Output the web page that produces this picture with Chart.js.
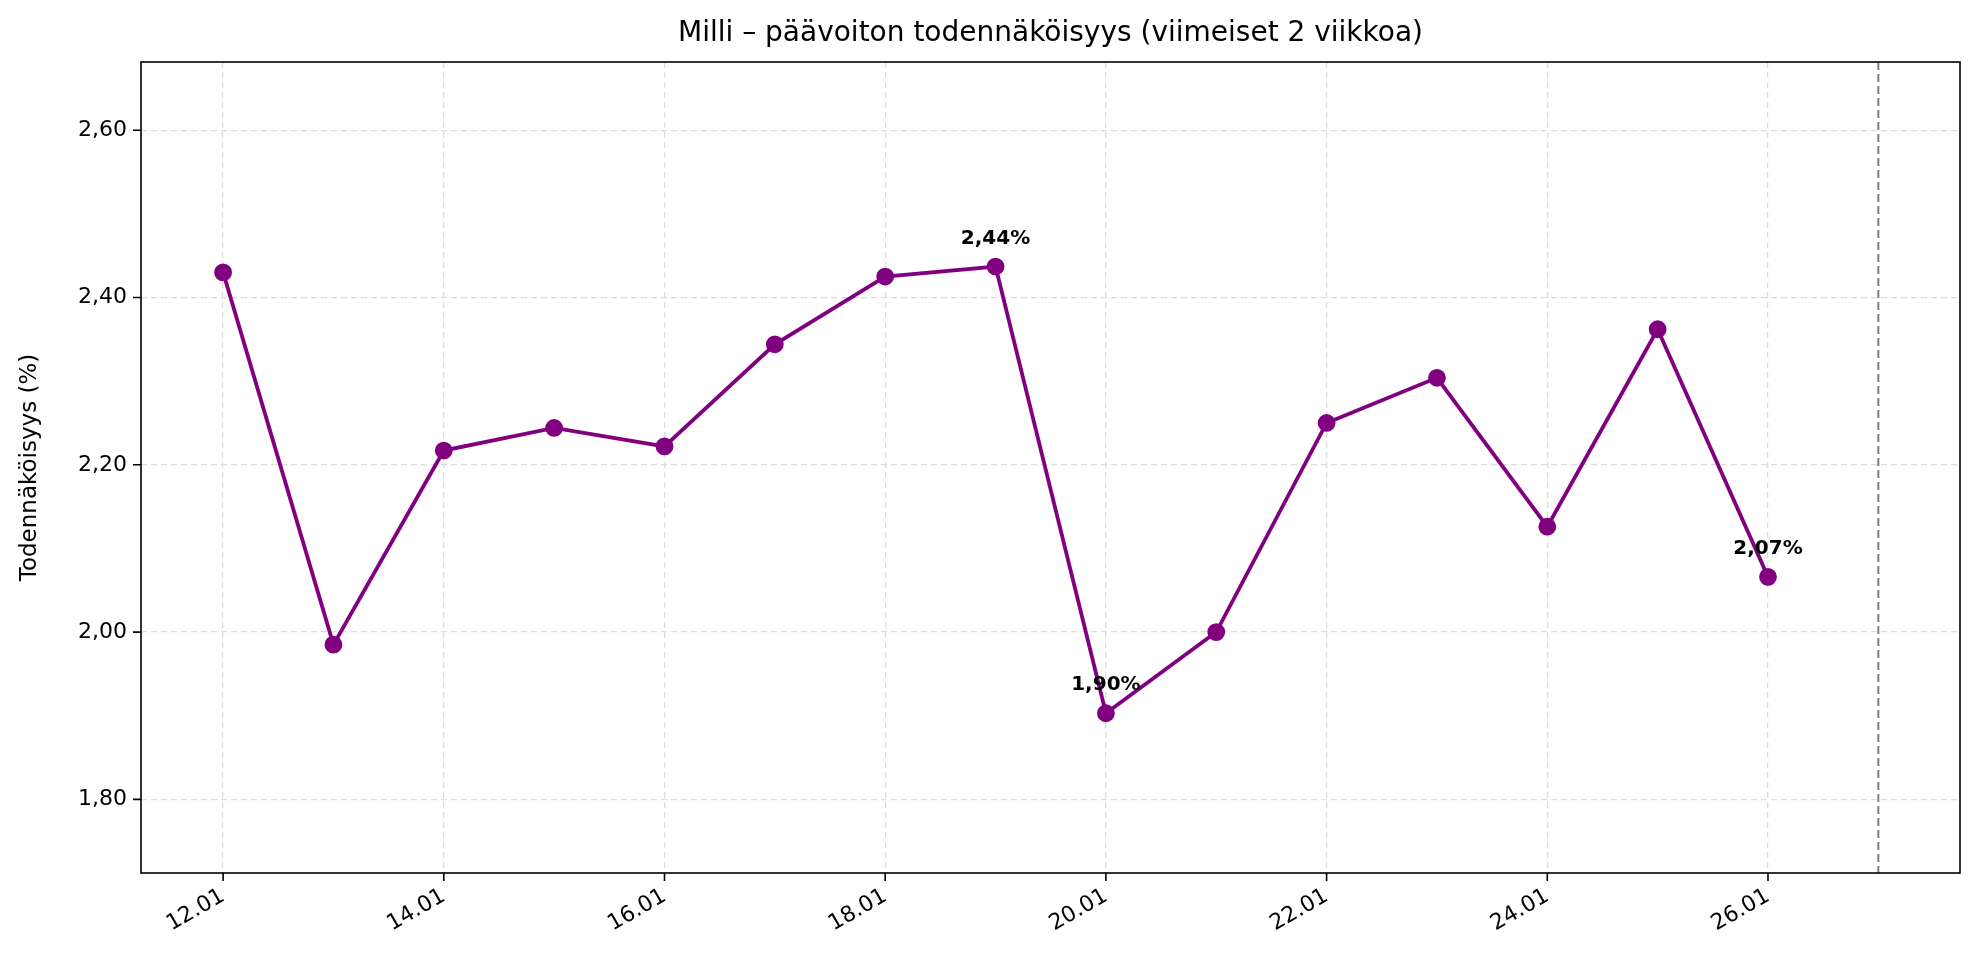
<!DOCTYPE html>
<html><head><meta charset="utf-8">
<script src="https://cdn.jsdelivr.net/npm/chart.js"></script>
<style>html,body{margin:0;background:#fff}</style>
</head><body>
<canvas id="c" width="1980" height="978"></canvas>
<script>
// päivät (tammikuu) ja todennäköisyydet %
var days = [12, 13, 14, 15, 16, 17, 18, 19, 20, 21, 22, 23, 24, 25, 26];
var probs = [2.43, 1.985, 2.217, 2.244, 2.222, 2.344, 2.425, 2.437, 1.903, 2.0, 2.25, 2.304, 2.126, 2.362, 2.066];
var labelled = [7, 8, 14]; // indeksit joille merkintä
var yTicks = [1.8, 2.0, 2.2, 2.4, 2.6];
var xTicks = [12, 14, 16, 18, 20, 22, 24, 26];
var todayLine = 27;
var FONT = '"DejaVu Sans", sans-serif';

function fi(v, d) { return v.toFixed(d).replace('.', ','); }

var extras = {
  id: 'extras',
  beforeDatasetsDraw: function(ch) {
    var c = ch.ctx, a = ch.chartArea, x = ch.scales.x;
    var px = x.getPixelForValue(todayLine);
    c.save();
    c.strokeStyle = '#808080'; c.lineWidth = 2; c.setLineDash([8, 4]);
    c.beginPath(); c.moveTo(px, a.top); c.lineTo(px, a.bottom); c.stroke();
    c.restore();
  },
  afterDraw: function(ch) {
    var c = ch.ctx, a = ch.chartArea, x = ch.scales.x, y = ch.scales.y;
    c.save();
    c.strokeStyle = '#000'; c.lineWidth = 1.6;
    c.strokeRect(a.left, a.top, a.right - a.left, a.bottom - a.top);
    c.beginPath();
    xTicks.forEach(function(t) { var p = x.getPixelForValue(t); c.moveTo(p, a.bottom); c.lineTo(p, a.bottom + 8); });
    yTicks.forEach(function(t) { var p = y.getPixelForValue(t); c.moveTo(a.left, p); c.lineTo(a.left - 8, p); });
    c.stroke();
    c.fillStyle = '#000';
    c.textAlign = 'center'; c.textBaseline = 'middle';
    c.font = '28px ' + FONT;
    c.fillText('Milli – päävoiton todennäköisyys (viimeiset 2 viikkoa)', (a.left + a.right) / 2, 34);
    c.save();
    c.translate(30, (a.top + a.bottom) / 2); c.rotate(-Math.PI / 2);
    c.font = '23px ' + FONT;
    c.fillText('Todennäköisyys (%)', 0, 0);
    c.restore();
    c.font = 'bold 20px ' + FONT;
    c.textBaseline = 'alphabetic';
    labelled.forEach(function(i) {
      c.fillText(fi(probs[i], 2) + '%', x.getPixelForValue(days[i]), y.getPixelForValue(probs[i]) - 23);
    });
    c.restore();
  }
};

new Chart(document.getElementById('c'), {
  type: 'line',
  data: {
    datasets: [{
      data: days.map(function(d, i) { return { x: d, y: probs[i] }; }),
      borderColor: '#800080', backgroundColor: '#800080',
      borderWidth: 3.8, pointRadius: 7, pointHoverRadius: 7, tension: 0
    }]
  },
  options: {
    responsive: false, animation: false,
    layout: { padding: { top: 62, right: 20, left: 0, bottom: 0 } },
    plugins: { legend: { display: false }, tooltip: { enabled: false } },
    scales: {
      x: {
        type: 'linear', min: 11.256, max: 27.74,
        afterBuildTicks: function(s) { s.ticks = xTicks.map(function(v) { return { value: v }; }); },
        afterFit: function(s) { s.height = 105; },
        grid: { color: '#dcdcdc', lineWidth: 1.3, drawTicks: false },
        border: { display: false, dash: [6, 4] },
        ticks: {
          color: '#000', font: { family: FONT, size: 22 }, padding: 10,
          minRotation: 30, maxRotation: 30,
          callback: function(v) { return (v < 10 ? '0' : '') + v + '.01'; }
        }
      },
      y: {
        min: 1.712, max: 2.6815,
        afterBuildTicks: function(s) { s.ticks = yTicks.map(function(v) { return { value: v }; }); },
        afterFit: function(s) { s.width = 141; },
        grid: { color: '#dcdcdc', lineWidth: 1.3, drawTicks: false },
        border: { display: false, dash: [6, 4] },
        ticks: {
          color: '#000', font: { family: FONT, size: 22 }, padding: 14,
          callback: function(v) { return fi(v, 2); }
        }
      }
    }
  },
  plugins: [extras]
});
</script>
</body></html>
